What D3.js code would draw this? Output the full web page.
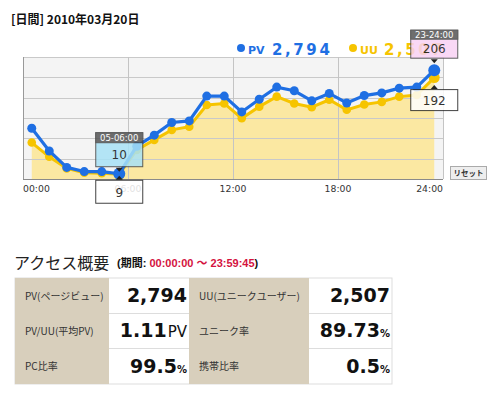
<!DOCTYPE html>
<html><head><meta charset="utf-8">
<script src="https://cdn.jsdelivr.net/npm/d3@7"></script>
<style>
html,body{margin:0;padding:0;background:#fff;}
svg{display:block;}
</style></head>
<body>
<svg id="c" width="500" height="395"></svg>
<script>
// ---- data ----
const hours = d3.range(0, 24);
const pv = [96,53,22,14,14,10,62,83,107,110,157,157,127,151,174,167,148,162,144,158,163,172,174,206];
const uu = [69,42,20,12,11,9,55,74,93,99,140,143,115,137,156,143,136,150,131,141,146,156,159,192];
const tickHours = [0, 6, 12, 18, 24];
const tickLabels = ["00:00", "06:00", "12:00", "18:00", "24:00"];
const seriesNames = ["PV", "UU"];
const seriesTotals = ["2,794", "2,507"];
const title = "[日間] 2010年03月20日";
const tipHours = [5, 23];
const tipLabels = ["05-06:00", "23-24:00"];
const summaryLabels = [["PV(ページビュー)", "UU(ユニークユーザー)"], ["PV/UU(平均PV)", "ユニーク率"], ["PC比率", "携帯比率"]];
const summaryValues = [[["2,794", ""], ["2,507", ""]], [["1.11", "PV"], ["89.73", "%"]], [["99.5", "%"], ["0.5", "%"]]];

const BLUE = "#1f6fe3", YEL = "#f6c400", AREA = "#fbe8a2";
const JP = "'Noto Sans CJK JP', sans-serif";
const svg = d3.select("#c");

// title
svg.append("text").attr("x", 11).attr("y", 24).attr("font-family", JP)
  .attr("font-size", 12).attr("font-weight", 700).attr("fill", "#111").text(title);

// scales
const x = d3.scaleLinear().domain([0, 24]).range([23, 443]);
const y = d3.scaleLinear().domain([0, 231]).range([179, 57]);

// plot background
svg.append("rect").attr("x", x(0)).attr("y", y(231)).attr("width", x(24) - x(0)).attr("height", y(0) - y(231)).attr("fill", "#f4f4f4");

// area
const area = d3.area().x((d, i) => x(i + 0.5)).y0(y(0)).y1(d => y(d));
svg.append("path").datum(uu).attr("d", area).attr("fill", AREA);

// grid
const yTicks = d3.range(0, 7).map(i => i * 231 / 6);
svg.append("g").selectAll("line").data(yTicks.slice(1)).join("line")
  .attr("x1", x(0)).attr("x2", x(24)).attr("y1", d => Math.round(y(d)) + 0.5).attr("y2", d => Math.round(y(d)) + 0.5)
  .attr("stroke", "#c9c9c9").attr("stroke-width", 1);
svg.append("g").selectAll("line").data(tickHours).join("line")
  .attr("x1", d => Math.round(x(d)) + 0.5).attr("x2", d => Math.round(x(d)) + 0.5).attr("y1", y(231)).attr("y2", y(0))
  .attr("stroke", (d, i) => (i === 0 ? "#999" : "#c4c4c4")).attr("stroke-width", 1);
svg.append("line").attr("x1", x(0)).attr("x2", x(24)).attr("y1", y(0) + 0.5).attr("y2", y(0) + 0.5).attr("stroke", "#8a8a8a");

// x labels
svg.append("g").selectAll("text").data(tickHours).join("text")
  .attr("x", d => x(d)).attr("y", 192)
  .attr("text-anchor", (d, i) => i === 0 ? "start" : (i === tickHours.length - 1 ? "end" : "middle"))
  .attr("font-family", "'DejaVu Sans', sans-serif").attr("font-size", 9.3).attr("fill", "#333")
  .text((d, i) => tickLabels[i]);

// lines + points
const line = d3.line().x((d, i) => x(i + 0.5)).y(d => y(d));
svg.append("path").datum(uu).attr("d", line).attr("fill", "none").attr("stroke", YEL).attr("stroke-width", 3);
svg.append("g").selectAll("circle").data(uu).join("circle")
  .attr("cx", (d, i) => x(i + 0.5)).attr("cy", d => y(d)).attr("r", (d, i) => tipHours.includes(i) ? 5.5 : 4.3).attr("fill", YEL);
svg.append("path").datum(pv).attr("d", line).attr("fill", "none").attr("stroke", BLUE).attr("stroke-width", 3.2);
svg.append("g").selectAll("circle").data(pv).join("circle")
  .attr("cx", (d, i) => x(i + 0.5)).attr("cy", d => y(d)).attr("r", (d, i) => tipHours.includes(i) ? 6 : 4.5).attr("fill", BLUE);

// legend
const legX = [241, 353];
const legCol = [BLUE, YEL];
seriesNames.forEach((n, k) => {
  svg.append("circle").attr("cx", legX[k]).attr("cy", 48).attr("r", 4).attr("fill", legCol[k]);
  svg.append("text").attr("x", legX[k] + 7).attr("y", 53.5).attr("font-family", "'DejaVu Sans', sans-serif")
    .attr("font-size", 11).attr("font-weight", 700).attr("fill", legCol[k]).text(n);
  svg.append("text").attr("x", legX[k] + 31).attr("y", 55).attr("font-family", "'DejaVu Sans', sans-serif")
    .attr("font-size", 15).attr("font-weight", 700).attr("letter-spacing", 2.6).attr("fill", legCol[k]).text(seriesTotals[k]);
});

// reset button
svg.append("rect").attr("x", 450.5).attr("y", 166.5).attr("width", 36).attr("height", 13).attr("fill", "#eeeeee").attr("stroke", "#aaa");
svg.append("text").attr("x", 468.5).attr("y", 176).attr("text-anchor", "middle").attr("font-family", JP)
  .attr("font-size", 7.5).attr("font-weight", 700).attr("fill", "#333").text("リセット");

// tooltips
const tipBody = ["#a8e2f6", "#f8d2f4"];
const upH = [[10, 24], [9, 19]];
const upGap = [7, 12];
const lowGap = [6, 12];
const lowH = [23, 21];
tipHours.forEach((h, k) => {
  const cx = x(h + 0.5), w = 47;
  const bottom = y(pv[h]) - upGap[k];
  const top = bottom - upH[k][0] - upH[k][1];
  const g = svg.append("g").attr("opacity", 0.85);
  g.append("rect").attr("x", cx - w / 2).attr("y", top).attr("width", w).attr("height", upH[k][0] + upH[k][1])
    .attr("fill", tipBody[k]).attr("stroke", "#444");
  g.append("rect").attr("x", cx - w / 2).attr("y", top).attr("width", w).attr("height", upH[k][0]).attr("fill", "#555").attr("stroke", "#444");
  g.append("text").attr("x", cx).attr("y", top + upH[k][0] - 1.5).attr("text-anchor", "middle")
    .attr("font-family", "'DejaVu Sans', sans-serif").attr("font-size", 8.5).attr("fill", "#fff").text(tipLabels[k]);
  g.append("text").attr("x", cx).attr("y", bottom - (upH[k][1] - 11) / 2 - 1).attr("text-anchor", "middle")
    .attr("font-family", "'DejaVu Sans', sans-serif").attr("font-size", 12).attr("fill", "#111").text(pv[h]);
  svg.append("path").attr("d", `M${cx - 3.5},${bottom + 1}L${cx + 3.5},${bottom + 1}L${cx},${bottom + 5}Z`).attr("fill", "#222");
  // lower tip
  const lt = y(uu[h]) + lowGap[k];
  const g2 = svg.append("g").attr("opacity", 0.85);
  g2.append("rect").attr("x", cx - w / 2).attr("y", lt).attr("width", w).attr("height", lowH[k]).attr("fill", "#fff").attr("stroke", "#222");
  g2.append("text").attr("x", cx).attr("y", lt + lowH[k] / 2 + 5).attr("text-anchor", "middle")
    .attr("font-family", "'DejaVu Sans', sans-serif").attr("font-size", 12).attr("fill", "#111").text(uu[h]);
  svg.append("path").attr("d", `M${cx - 3.5},${lt - 0.5}L${cx + 3.5},${lt - 0.5}L${cx},${lt - 4.5}Z`).attr("fill", "#222");
});

// summary heading
svg.append("text").attr("x", 14).attr("y", 269).attr("font-family", JP).attr("font-size", 16).attr("fill", "#222").text("アクセス概要");
const sub = svg.append("text").attr("x", 117).attr("y", 267).attr("font-family", "'Liberation Sans', " + JP)
  .attr("font-size", 11).attr("font-weight", 700).attr("fill", "#111");
sub.append("tspan").text("(期間: ");
sub.append("tspan").attr("fill", "#d4123e").text("00:00:00 ～ 23:59:45");
sub.append("tspan").text(")");

// summary table
const colX = [15, 109, 189, 309, 392];
const rowY = [278, 313, 348, 384];
svg.append("rect").attr("x", colX[0]).attr("y", rowY[0]).attr("width", colX[4] - colX[0]).attr("height", rowY[3] - rowY[0]).attr("fill", "#fff").attr("stroke", "#ddd");
[0, 2].forEach(c => svg.append("rect").attr("x", colX[c]).attr("y", rowY[0]).attr("width", colX[c + 1] - colX[c]).attr("height", rowY[3] - rowY[0]).attr("fill", "#d8cfbc"));
[1, 2].forEach(r => [1, 3].forEach(c => svg.append("line").attr("x1", colX[c]).attr("x2", colX[c + 1]).attr("y1", rowY[r] + 0.5).attr("y2", rowY[r] + 0.5).attr("stroke", "#ddd")));
summaryLabels.forEach((row, r) => {
  row.forEach((lab, k) => {
    const lx = colX[k * 2] + 10;
    const mid = (rowY[r] + rowY[r + 1]) / 2;
    svg.append("text").attr("x", lx).attr("y", mid + 4).attr("font-family", JP).attr("font-size", 10).attr("fill", "#333").text(lab);
    const [num, unit] = summaryValues[r][k];
    const t = svg.append("text").attr("x", colX[k * 2 + 2] - 2).attr("y", mid + 6.5).attr("text-anchor", "end")
      .attr("font-family", "'DejaVu Sans', sans-serif").attr("fill", "#111");
    t.append("tspan").attr("font-size", 19).attr("font-weight", 700).text(num);
    if (unit === "PV") t.append("tspan").attr("font-size", 15).attr("font-weight", 400).attr("dx", 1).text(unit);
    else if (unit) t.append("tspan").attr("font-size", 10).attr("font-weight", 700).text(unit);
  });
});
</script>
</body></html>
